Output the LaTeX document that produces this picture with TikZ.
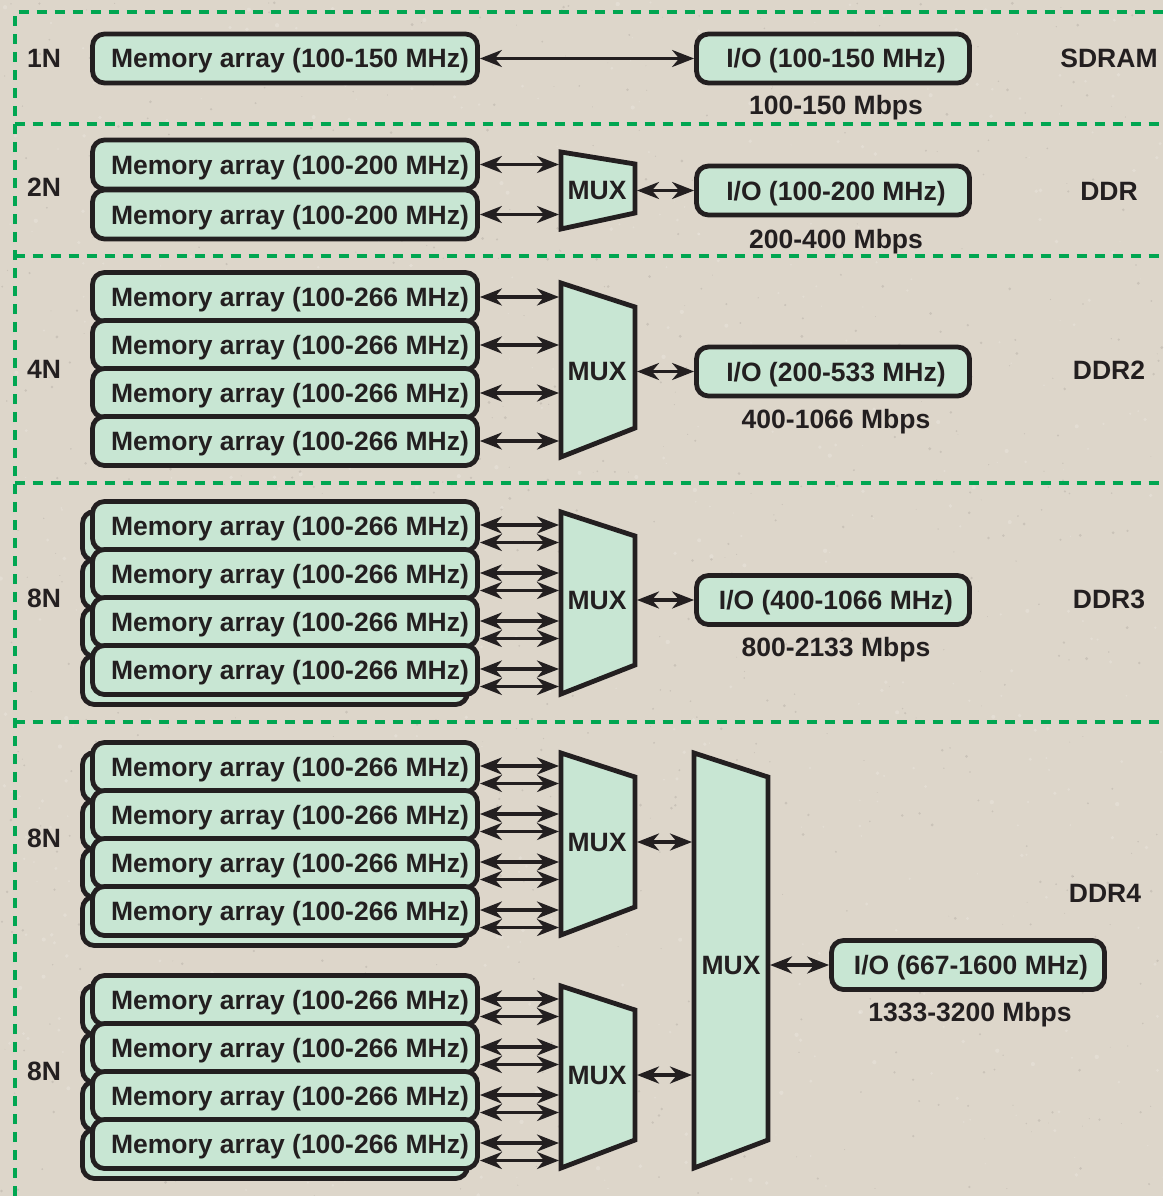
\documentclass[tikz,border=0pt]{standalone}
\usepackage{fontspec}
\setmainfont{Liberation Sans}
\usetikzlibrary{arrows.meta}
\definecolor{bg}{HTML}{DDD6CA}
\definecolor{boxg}{HTML}{C8E6D3}
\definecolor{dashg}{HTML}{00A651}
\definecolor{ink}{HTML}{231F20}
\begin{document}
\begin{tikzpicture}[x=1pt,y=-1pt,
  txt/.style={font=\bfseries\fontsize{26.5}{30}\selectfont, text=ink, text height=19pt, text depth=0pt},
  box/.style={txt, draw=ink, fill=boxg, line width=4.8pt, rounded corners=12pt, minimum height=49pt, inner sep=0pt},
  mem/.style={box, minimum width=385pt},
  io/.style={box, minimum width=273pt},
  lbl/.style={txt, inner sep=0pt},
  conn/.style={draw=ink, line width=3.2pt, {Stealth[length=22pt,width=17pt,inset=7pt]}-{Stealth[length=22pt,width=17pt,inset=7pt]}},
  mux/.style={draw=ink, fill=boxg, line width=4.8pt, line join=miter},
  sep/.style={draw=dashg, line width=4pt, dash pattern=on 10pt off 8pt}]

% background
\fill[bg] (0,0) rectangle (1163,1196);
\useasboundingbox (0,0) rectangle (1163,1196);
\pgfmathsetseed{11}
\foreach \i in {1,...,900} {
  \fill[ink, opacity=0.10] ({rnd*1163},{rnd*1196}) circle[radius={0.4pt+rnd*1.2pt}];
}
\foreach \i in {1,...,700} {
  \fill[white, opacity=0.18] ({rnd*1163},{rnd*1196}) circle[radius={0.6pt+rnd*1.6pt}];
}

% separators
\draw[sep] (14.5,1196) -- (14.5,12) -- (1163,12);
\draw[sep] (14.5,124.5) -- (1163,124.5);
\draw[sep] (14.5,256) -- (1163,256);
\draw[sep] (14.5,483) -- (1163,483);
\draw[sep] (14.5,722) -- (1163,722);

% row labels
\node[lbl] (n1) at (44,58) {1N};
\node[lbl] (n2) at (44,187) {2N};
\node[lbl] (n3) at (44,369) {4N};
\node[lbl] (n4) at (44,598) {8N};
\node[lbl] (n5) at (44,838) {8N};
\node[lbl] (n6) at (44,1071) {8N};
\node[lbl] (t1) at (1109,58) {SDRAM};
\node[lbl] (t2) at (1109,191) {DDR};
\node[lbl] (t3) at (1109,370) {DDR2};
\node[lbl] (t4) at (1109,599) {DDR3};
\node[lbl] (t5) at (1105,893) {DDR4};
\node[lbl] (r1) at (836,105) {100-150 Mbps};
\node[lbl] (r2) at (836,239) {200-400 Mbps};
\node[lbl] (r3) at (836,419) {400-1066 Mbps};
\node[lbl] (r4) at (836,647) {800-2133 Mbps};
\node[lbl] (r5) at (970,1012) {1333-3200 Mbps};

% ===== SDRAM =====
\node[mem] (m11) at (285,58.5) {\hspace*{10pt}Memory array (100-150 MHz)};
\node[io] (io1) at (833,58.5) {\hspace*{6pt}I/O (100-150 MHz)};
\draw[conn] (m11.east) -- (io1.west);

% ===== DDR =====
\node[mem] (m21) at (285,164.5) {\hspace*{10pt}Memory array (100-200 MHz)};
\node[mem] (m22) at (285,214.5) {\hspace*{10pt}Memory array (100-200 MHz)};
\draw[mux] (561,152) -- (635,164) -- (635,213) -- (561,229) -- cycle;
\node[lbl] (mux2) at (597,190) {MUX};
\coordinate (in2) at (559,190);
\coordinate (out2) at (637,190.5);
\node[io] (io2) at (833,190.5) {\hspace*{6pt}I/O (100-200 MHz)};
\draw[conn] (m21.east) -- (m21.east -| in2);
\draw[conn] (m22.east) -- (m22.east -| in2);
\draw[conn] (out2) -- (out2 -| io2.west);

% ===== DDR2 =====
\node[mem] (m31) at (285,297) {\hspace*{10pt}Memory array (100-266 MHz)};
\node[mem] (m32) at (285,345) {\hspace*{10pt}Memory array (100-266 MHz)};
\node[mem] (m33) at (285,393) {\hspace*{10pt}Memory array (100-266 MHz)};
\node[mem] (m34) at (285,441) {\hspace*{10pt}Memory array (100-266 MHz)};
\draw[mux] (561,283) -- (635,307) -- (635,428) -- (561,457) -- cycle;
\node[lbl] (mux3) at (597,371) {MUX};
\coordinate (in3) at (559,371);
\coordinate (out3) at (637,371.5);
\node[io] (io3) at (833,371.5) {\hspace*{6pt}I/O (200-533 MHz)};
\foreach \k in {1,2,3,4} {\draw[conn] (m3\k.east) -- (m3\k.east -| in3);}
\draw[conn] (out3) -- (out3 -| io3.west);

% ===== DDR3 =====
\foreach \k/\y in {1/526,2/574,3/622,4/670} {
  \node[mem] (b4\k) at (275,\y+10) {};
  \node[mem] (f4\k) at (285,\y) {\hspace*{10pt}Memory array (100-266 MHz)};
}
\draw[mux] (561,512) -- (635,536) -- (635,665) -- (561,694) -- cycle;
\node[lbl] (mux4) at (597,600) {MUX};
\coordinate (in4) at (559,600);
\coordinate (out4) at (637,600);
\node[io] (io4) at (833,600) {\hspace*{6pt}I/O (400-1066 MHz)};
\foreach \k in {1,2,3,4} {
  \draw[conn] ([yshift=1pt]f4\k.east) -- ([yshift=1pt]f4\k.east -| in4);
  \draw[conn] ([yshift=-16.5pt]f4\k.east) -- ([yshift=-16.5pt]f4\k.east -| in4);
}
\draw[conn] (out4) -- (out4 -| io4.west);

% ===== DDR4 =====
\foreach \k/\y in {1/767,2/815,3/863,4/911} {
  \node[mem] (b5\k) at (275,\y+10) {};
  \node[mem] (f5\k) at (285,\y) {\hspace*{10pt}Memory array (100-266 MHz)};
}
\foreach \k/\y in {1/1000,2/1048,3/1096,4/1144} {
  \node[mem] (b6\k) at (275,\y+10) {};
  \node[mem] (f6\k) at (285,\y) {\hspace*{10pt}Memory array (100-266 MHz)};
}
\draw[mux] (561,753) -- (635,777) -- (635,907) -- (561,935) -- cycle;
\node[lbl] (mux5) at (597,842) {MUX};
\draw[mux] (561,986) -- (635,1010) -- (635,1140) -- (561,1168) -- cycle;
\node[lbl] (mux6) at (597,1075) {MUX};
\draw[mux] (694,753) -- (768,777) -- (768,1140) -- (694,1168) -- cycle;
\node[lbl] (mux7) at (731,965) {MUX};
\coordinate (in5) at (559,842);
\coordinate (out5) at (637,842);
\coordinate (in6) at (559,1075);
\coordinate (out6) at (637,1075);
\coordinate (in7) at (692,965);
\coordinate (out7) at (770,965);
\node[io] (io5) at (968,965) {\hspace*{6pt}I/O (667-1600 MHz)};
\foreach \k in {1,2,3,4} {
  \draw[conn] ([yshift=1pt]f5\k.east) -- ([yshift=1pt]f5\k.east -| in5);
  \draw[conn] ([yshift=-16.5pt]f5\k.east) -- ([yshift=-16.5pt]f5\k.east -| in5);
  \draw[conn] ([yshift=1pt]f6\k.east) -- ([yshift=1pt]f6\k.east -| in6);
  \draw[conn] ([yshift=-16.5pt]f6\k.east) -- ([yshift=-16.5pt]f6\k.east -| in6);
}
\draw[conn] (out5) -- (out5 -| in7);
\draw[conn] (out6) -- (out6 -| in7);
\draw[conn] (out7) -- (out7 -| io5.west);
\end{tikzpicture}
\end{document}
